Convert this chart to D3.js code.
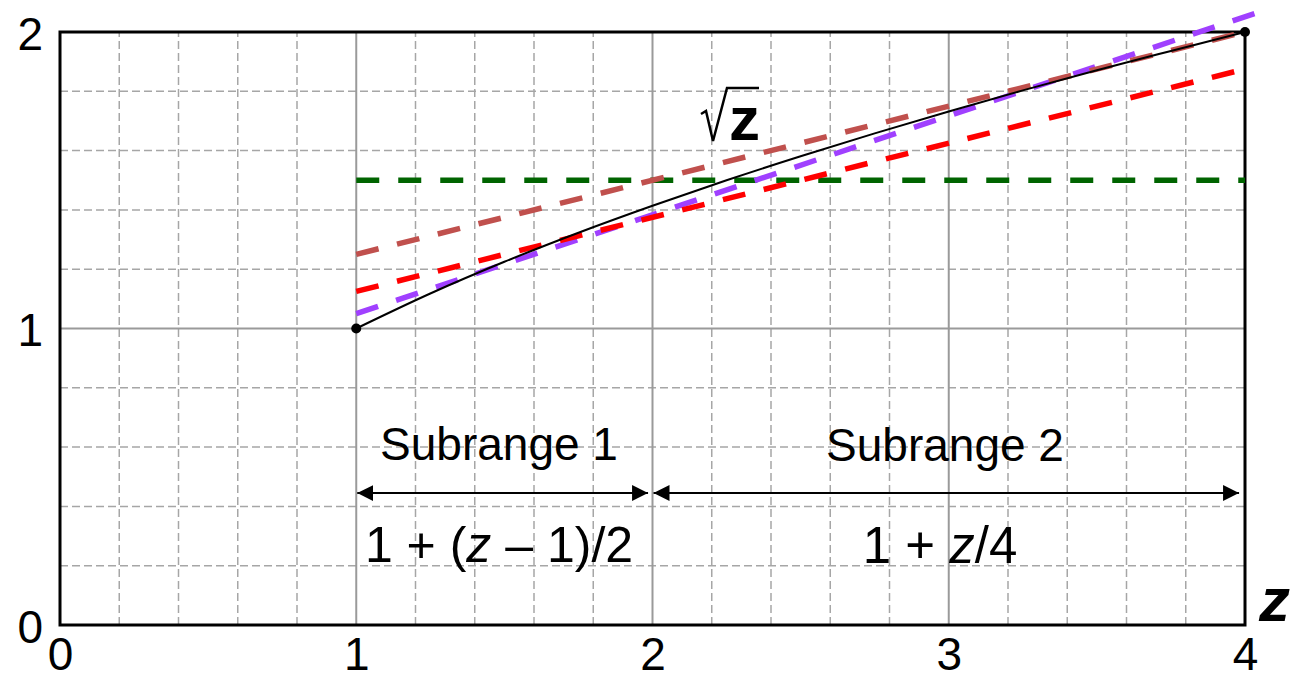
<!DOCTYPE html>
<html>
<head>
<meta charset="utf-8">
<script src="https://cdn.jsdelivr.net/npm/d3@7"></script>
<style>
  html, body { margin: 0; padding: 0; background: #fff; }
  svg { display: block; font-family: "Liberation Sans", Arial, sans-serif; }
</style>
</head>
<body>
<svg id="chart" width="1295" height="674"></svg>
<script>
// Axis ticks
const xTicks = [0, 1, 2, 3, 4];
const yTicks = [0, 1, 2];
const minorStep = 0.2;

// sqrt(z) over [1, 4]
const curveZ = [1, 1.25, 1.5, 1.75, 2, 2.25, 2.5, 2.75, 3, 3.25, 3.5, 3.75, 4];
const curveY = [1, 1.118, 1.225, 1.323, 1.414, 1.5, 1.581, 1.658, 1.732, 1.803, 1.871, 1.936, 2];

// Straight approximations: [z, y] end points
const constLine  = [[1, 1.5], [4, 1.5]];
const upperLine  = [[1, 1.25], [4, 2.0]];
const lowerLine  = [[1, 1.125], [4, 1.875]];
const steepLine  = [[1, 1.05], [4.035, 2.063]];

// Subrange spans and their labels
const subranges = [
  { from: 1, to: 1.985, name: "Subrange 1" },
  { from: 2, to: 3.98,  name: "Subrange 2" }
];

const svg = d3.select("#chart");
const x = d3.scaleLinear().domain([0, 4]).range([60, 1245]);
const y = d3.scaleLinear().domain([0, 2]).range([625, 32]);

// Minor dashed grid
const gMinor = svg.append("g")
  .attr("stroke", "#a6a6a6").attr("stroke-width", 1.5).attr("stroke-dasharray", "8,4");
d3.range(minorStep, 4 - 1e-9, minorStep).filter(v => Math.abs(v - Math.round(v)) > 1e-6).forEach(v => {
  gMinor.append("line").attr("x1", x(v)).attr("x2", x(v)).attr("y1", y(0)).attr("y2", y(2));
});
d3.range(minorStep, 2 - 1e-9, minorStep).filter(v => Math.abs(v - Math.round(v)) > 1e-6).forEach(v => {
  gMinor.append("line").attr("x1", x(0)).attr("x2", x(4)).attr("y1", y(v)).attr("y2", y(v));
});

// Major solid grid
const gMajor = svg.append("g").attr("stroke", "#9a9a9a").attr("stroke-width", 2);
xTicks.filter(v => v > 0 && v < 4).forEach(v => {
  gMajor.append("line").attr("x1", x(v)).attr("x2", x(v)).attr("y1", y(0)).attr("y2", y(2));
});
yTicks.filter(v => v > 0 && v < 2).forEach(v => {
  gMajor.append("line").attr("x1", x(0)).attr("x2", x(4)).attr("y1", y(v)).attr("y2", y(v));
});

// Frame
svg.append("rect")
  .attr("x", x(0)).attr("y", y(2))
  .attr("width", x(4) - x(0)).attr("height", y(0) - y(2))
  .attr("fill", "none").attr("stroke", "#000").attr("stroke-width", 3);

// Tick labels
const xAxis = svg.append("g")
  .attr("transform", `translate(0,${y(0)})`)
  .call(d3.axisBottom(x).tickValues(xTicks).tickFormat(d3.format("d")).tickSize(0).tickPadding(0));
xAxis.select(".domain").remove();
xAxis.selectAll("text")
  .attr("font-size", 46).attr("font-family", "Liberation Sans, Arial, sans-serif")
  .attr("fill", "#000").attr("dy", null).attr("y", 45);

const yAxis = svg.append("g")
  .attr("transform", `translate(43,0)`)
  .call(d3.axisLeft(y).tickValues(yTicks).tickFormat(d3.format("d")).tickSize(0).tickPadding(0));
yAxis.select(".domain").remove();
yAxis.selectAll("text")
  .attr("font-size", 46).attr("font-family", "Liberation Sans, Arial, sans-serif")
  .attr("fill", "#000").attr("dy", null).attr("y", 17).attr("x", 0);

// Dashed approximation lines
const line = d3.line().x(d => x(d[0])).y(d => y(d[1]));
const dashed = [
  { data: constLine, color: "#006400" },
  { data: steepLine, color: "#a040ff" },
  { data: upperLine, color: "#c0504d" },
  { data: lowerLine, color: "#ff0000" }
];
dashed.forEach(s => {
  svg.append("path").attr("d", line(s.data))
    .attr("fill", "none").attr("stroke", s.color)
    .attr("stroke-width", 5.5).attr("stroke-dasharray", "23,19");
});

// sqrt curve
const curvePts = curveZ.map((z, i) => [z, curveY[i]]);
svg.append("path")
  .attr("d", d3.line().x(d => x(d[0])).y(d => y(d[1])).curve(d3.curveMonotoneX)(curvePts))
  .attr("fill", "none").attr("stroke", "#000").attr("stroke-width", 2);
svg.selectAll("circle.end")
  .data([curvePts[0], curvePts[curvePts.length - 1]])
  .join("circle").attr("class", "end")
  .attr("cx", d => x(d[0])).attr("cy", d => y(d[1])).attr("r", 5).attr("fill", "#000");

// √z label
svg.append("path")
  .attr("d", "M701,114 L706,111 L713,141 L727,88 L759,88")
  .attr("fill", "none").attr("stroke", "#000").attr("stroke-width", 2.5).attr("stroke-linejoin", "miter");
svg.append("text").attr("x", 729).attr("y", 140)
  .attr("font-size", 62).attr("font-weight", "bold").text("z");

// Subrange arrows
const defs = svg.append("defs");
defs.append("marker").attr("id", "head").attr("viewBox", "0 0 10 10")
  .attr("refX", 10).attr("refY", 5).attr("markerUnits", "userSpaceOnUse")
  .attr("markerWidth", 16).attr("markerHeight", 17).attr("orient", "auto-start-reverse")
  .append("path").attr("d", "M0,0 L10,5 L0,10 Z").attr("fill", "#000");

const arrowY = 493;
subranges.forEach(s => {
  svg.append("line")
    .attr("x1", x(s.from) + 1).attr("x2", x(s.to)).attr("y1", arrowY).attr("y2", arrowY)
    .attr("stroke", "#000").attr("stroke-width", 2)
    .attr("marker-start", "url(#head)").attr("marker-end", "url(#head)");
});

svg.append("text").attr("x", 499).attr("y", 460).attr("text-anchor", "middle")
  .attr("font-size", 46).text(subranges[0].name);
svg.append("text").attr("x", 945).attr("y", 461).attr("text-anchor", "middle")
  .attr("font-size", 46).text(subranges[1].name);

// Approximation formulas
const f1 = svg.append("text").attr("x", 499).attr("y", 562).attr("text-anchor", "middle").attr("font-size", 50);
f1.append("tspan").text("1 + (");
f1.append("tspan").attr("font-style", "italic").text("z");
f1.append("tspan").text(" \u2013 1)/2");

const f2 = svg.append("text").attr("x", 940).attr("y", 563).attr("text-anchor", "middle").attr("font-size", 51);
f2.append("tspan").text("1 + ");
f2.append("tspan").attr("font-style", "italic").text("z");
f2.append("tspan").text("/4");

// Axis variable
svg.append("text").attr("x", 1259).attr("y", 621)
  .attr("font-size", 62).attr("font-weight", "bold").attr("font-style", "italic").text("z");
</script>
</body>
</html>
